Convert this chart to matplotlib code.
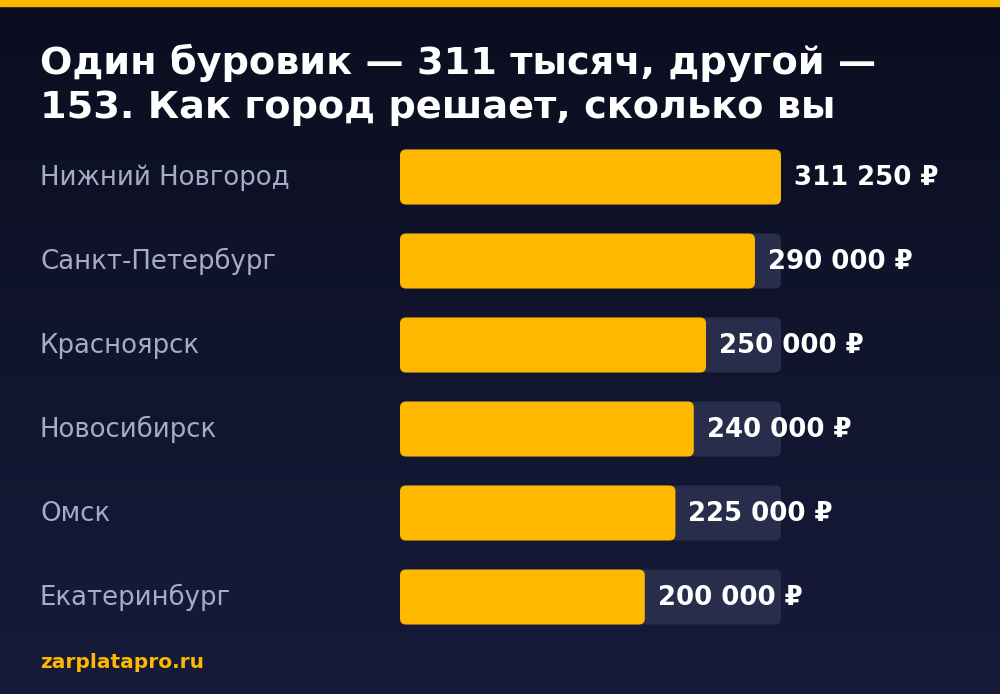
import numpy as np
import matplotlib.pyplot as plt
from matplotlib.patches import FancyBboxPatch
from matplotlib.colors import LinearSegmentedColormap

cities = ['Нижний Новгород', 'Санкт-Петербург', 'Красноярск', 'Новосибирск', 'Омск', 'Екатеринбург']
salaries = [311250, 290000, 250000, 240000, 225000, 200000]
value_labels = ['311 250 ₽', '290 000 ₽', '250 000 ₽', '240 000 ₽', '225 000 ₽', '200 000 ₽']
title = 'Один буровик — 311 тысяч, другой —\n153. Как город решает, сколько вы'
source = 'zarplatapro.ru'

GOLD = '#ffb800'
TRACK = '#282d4c'
LABEL = '#a6abc6'

W, H = 1000, 694
fig = plt.figure(figsize=(W / 100, H / 100), dpi=100)

# background gradient + top stripe
bg = fig.add_axes([0, 0, 1, 1])
grad = np.linspace(0, 1, 256).reshape(-1, 1)
cmap = LinearSegmentedColormap.from_list('bg', ['#0b0e1f', '#171b3b'])
bg.imshow(grad, aspect='auto', cmap=cmap, extent=[0, 1, 0, 1], origin='upper')
bg.axhspan(1 - 6 / H, 1, color=GOLD)
bg.set_xlim(0, 1)
bg.set_ylim(0, 1)
bg.axis('off')

# title and footer
fig.text(40 / W, 1 - 44 / H, title, color='white', fontsize=27.5, fontweight='bold',
         va='top', ha='left', linespacing=1.27)
fig.text(40 / W, 1 - 663 / H, source, color=GOLD, fontsize=14.5, fontweight='bold',
         va='center', ha='left')

# bar axes
x0, x1 = 400, 781
top, row = 135, 84
n = len(cities)
ax = fig.add_axes([x0 / W, 1 - (top + n * row) / H, (x1 - x0) / W, n * row / H])
vmax = max(salaries)
ax.set_xlim(0, vmax)
ax.set_ylim(n - 0.5, -0.5)
ax.axis('off')

bar_h = 55 / row
xpp = vmax / (x1 - x0)
aspect = (1 / row) / xpp
rad = 6 * xpp

for i, (city, v, lab) in enumerate(zip(cities, salaries, value_labels)):
    ax.add_patch(FancyBboxPatch((0, i - bar_h / 2), vmax, bar_h,
                                boxstyle=f'round,pad=0,rounding_size={rad}',
                                mutation_aspect=aspect, fc=TRACK, ec='none'))
    ax.add_patch(FancyBboxPatch((0, i - bar_h / 2), v, bar_h,
                                boxstyle=f'round,pad=0,rounding_size={rad}',
                                mutation_aspect=aspect, fc=GOLD, ec='none'))
    ax.text(v + 13 * xpp, i + 0.01, lab, color='white', fontsize=18.7, fontweight='bold',
            va='center', ha='left')
    ax.text(-360 * xpp, i + 0.01, city, color=LABEL, fontsize=18.75, va='center', ha='left')

fig.savefig('out.png', dpi=100)
